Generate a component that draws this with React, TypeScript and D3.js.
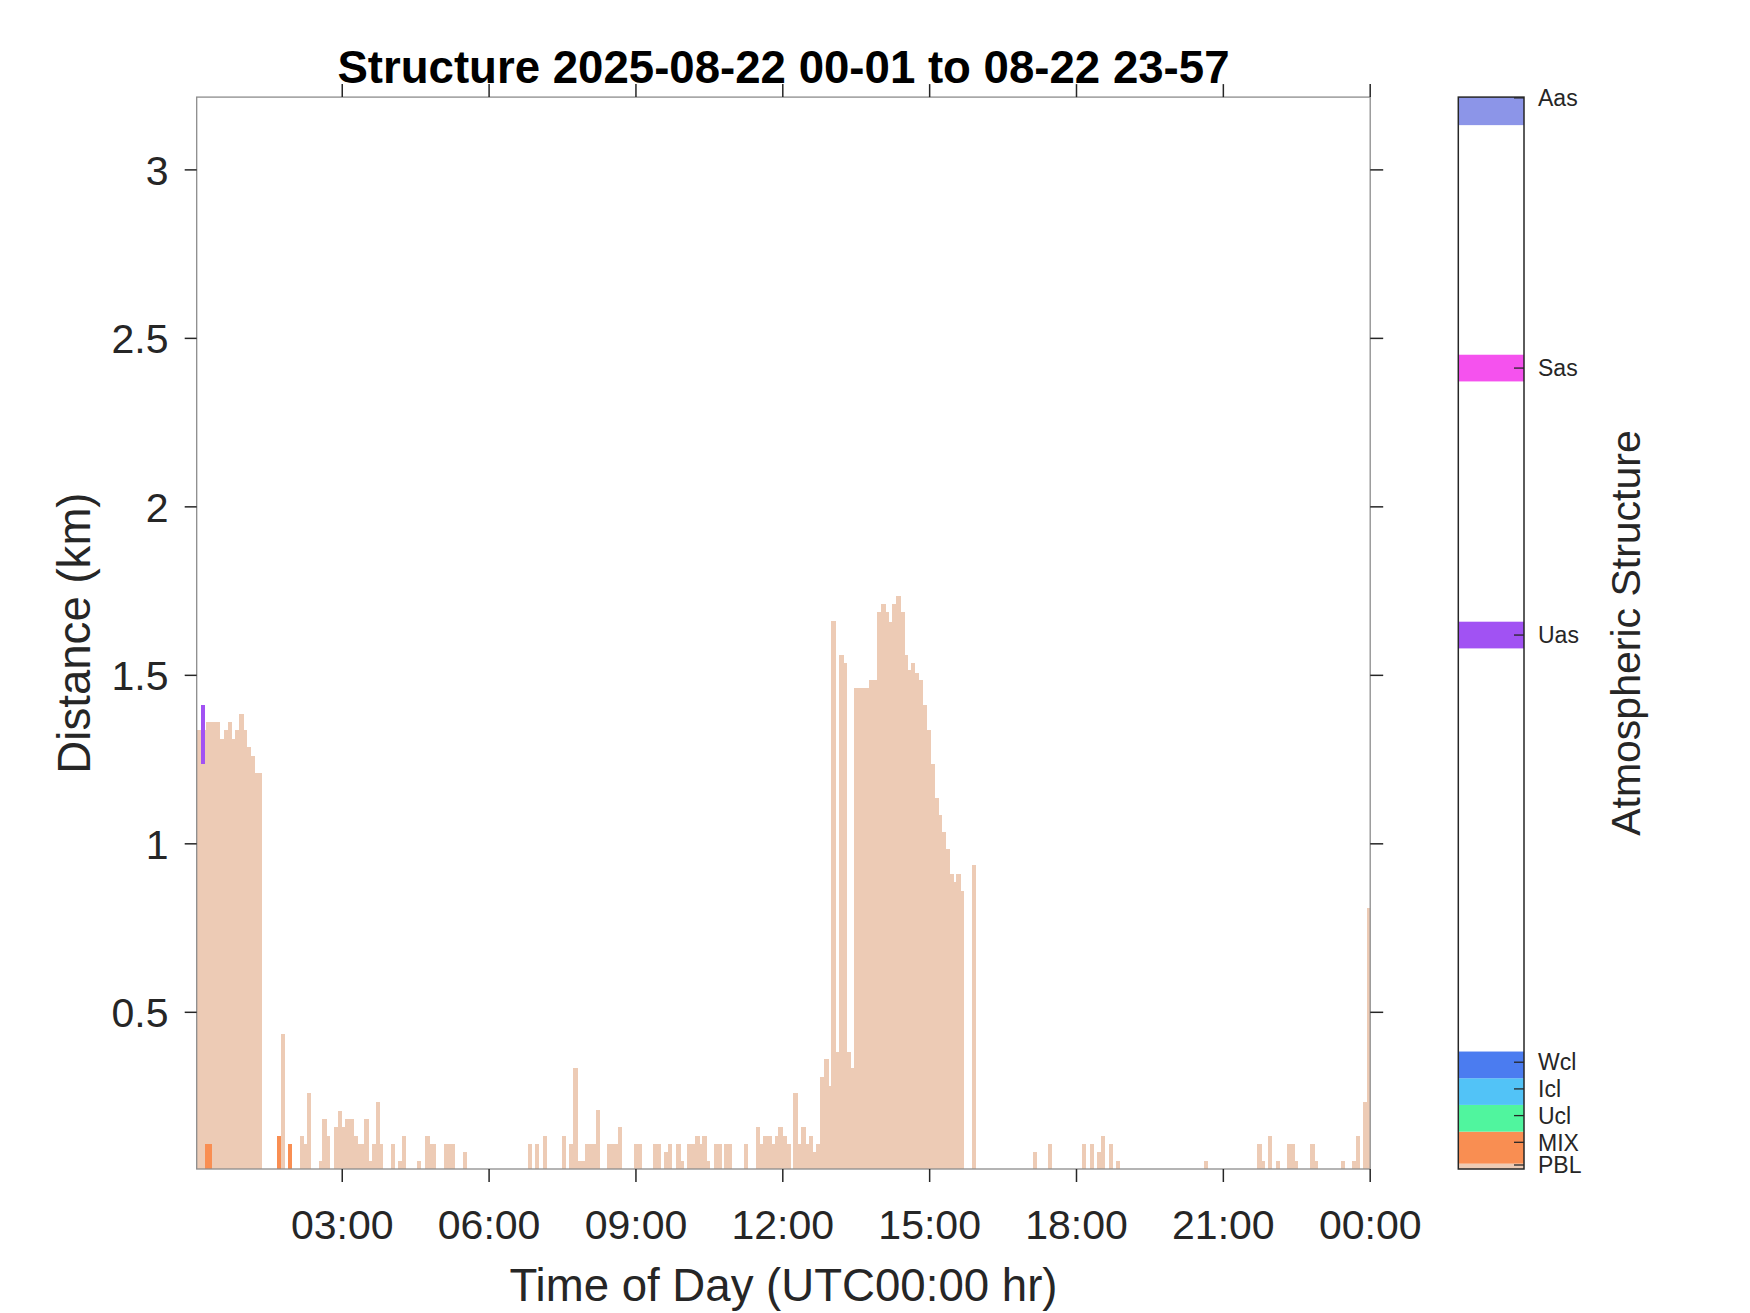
import React from "react";
import * as d3 from "d3";

// ---- data (time in minutes after 00:00 UTC, height in km) ----
const pblBars: [number, number][] = [
  [1.6, 1.338], [5.4, 1.338], [9.2, 1.338], [13, 1.361], [17.1, 1.361], [21.2, 1.361], [25.3, 1.361],
  [29.3, 1.31], [31.8, 1.31], [35.4, 1.338], [39.6, 1.361], [43.6, 1.31], [48.5, 1.338], [53.8, 1.385], [58, 1.338],
  [62, 1.286], [67, 1.261], [71.8, 1.211], [76.5, 1.211],
  [104.9, 0.436], [128.2, 0.134], [132.3, 0.109], [137.2, 0.26], [151.9, 0.06], [155.6, 0.183],
  [160.1, 0.134], [169.9, 0.159], [174.8, 0.208], [178.5, 0.159], [183.4, 0.183], [188.1, 0.183],
  [192.8, 0.134], [197.7, 0.109], [202.2, 0.109], [206.7, 0.183], [211.2, 0.06], [216.8, 0.109],
  [221, 0.233], [225, 0.109], [239.4, 0.109], [248.7, 0.06], [253.2, 0.134], [271.6, 0.06],
  [281.4, 0.134], [285.9, 0.109], [290.2, 0.109], [304.7, 0.109], [309.2, 0.109], [313.7, 0.109],
  [328, 0.085], [407.3, 0.109], [416.2, 0.109], [425.7, 0.134], [448.9, 0.134], [457.9, 0.109],
  [462.5, 0.334], [467.3, 0.06], [472.4, 0.06], [477.5, 0.109], [482, 0.109], [486.5, 0.109],
  [491, 0.21], [504.5, 0.109], [509.1, 0.109], [513.8, 0.109], [518.4, 0.159], [537.2, 0.109],
  [542.1, 0.109], [560.5, 0.109], [565.4, 0.109], [574.4, 0.085], [579.7, 0.109], [589, 0.109],
  [593.9, 0.06], [602.9, 0.109], [607.6, 0.109], [612.3, 0.134], [617.2, 0.109], [621.3, 0.134],
  [625.5, 0.06], [635.6, 0.109], [640.3, 0.109], [647.5, 0.109], [652.7, 0.109], [672.4, 0.109],
  [687.1, 0.159], [690.8, 0.109], [696.1, 0.134], [700.8, 0.134], [705.5, 0.109], [710.4, 0.134],
  [714.5, 0.159], [719.4, 0.134], [724.8, 0.109], [732.9, 0.26], [737, 0.109], [742.3, 0.159],
  [747.2, 0.109], [751.7, 0.134], [755.8, 0.085], [760.7, 0.109], [766, 0.309], [770.1, 0.361],
  [775, 0.282], [779.1, 1.661], [784, 0.383], [788.9, 1.56], [793.4, 1.537], [797.5, 0.383],
  [802.4, 0.334], [807.3, 1.463], [811.9, 1.463], [816.5, 1.463], [821, 1.463], [825.6, 1.486],
  [830.7, 1.486], [835.8, 1.687], [840.3, 1.711], [845.2, 1.687], [849.3, 1.659], [854.2, 1.711],
  [858.4, 1.735], [863.6, 1.687], [868.1, 1.56], [872.2, 1.516], [877.1, 1.537], [881.2, 1.508],
  [886.1, 1.486], [890.2, 1.412], [895.1, 1.338], [900.4, 1.237], [905.3, 1.135], [909.8, 1.086],
  [914.5, 1.034], [919.4, 0.986], [924.3, 0.911], [928.8, 0.888], [932.8, 0.911], [937.7, 0.861],
  [952.3, 0.937], [1027, 0.085], [1045, 0.109], [1086.7, 0.109], [1096.5, 0.109], [1105.5, 0.085],
  [1110, 0.134], [1119.4, 0.109], [1128.4, 0.06], [1236.2, 0.06], [1301.6, 0.109], [1306.1, 0.06],
  [1314.7, 0.134], [1324.5, 0.06], [1338, 0.109], [1342.5, 0.109], [1347, 0.06], [1366.2, 0.109],
  [1371.1, 0.06], [1404.2, 0.06], [1417.6, 0.06], [1422.5, 0.134], [1431.1, 0.235], [1436, 0.81],
];
const mixBars: [number, number][] = [
  [11.8, 0.109], [16, 0.109], [99.6, 0.134], [113.1, 0.109],
];
// [time, base km, top km]
const uasLayers: [number, number, number][] = [[6.9, 1.237, 1.412]];

const xTicks = [180, 360, 540, 720, 900, 1080, 1260, 1440];
const xTickLabels = ["03:00", "06:00", "09:00", "12:00", "15:00", "18:00", "21:00", "00:00"];
const yTicks = [0.5, 1, 1.5, 2, 2.5, 3];
const yTickLabels = ["0.5", "1", "1.5", "2", "2.5", "3"];

const classNames = ["PBL", "MIX", "Ucl", "Icl", "Wcl", "Uas", "Sas", "Aas"];
const classTicks = [0.15, 1, 2, 3, 4, 20, 30, 40.12];
const classBandLo = [0, 0.2, 1.4, 2.4, 3.4, 19.5, 29.5, 39.1];
const classBandHi = [0.2, 1.4, 2.4, 3.4, 4.4, 20.5, 30.5, 40.15];
const classColors = ["#EDCBB5", "#F98E52", "#50F59E", "#52C3F7", "#4B7CF0", "#A152F3", "#F552EE", "#8C95E8"];

const BAR_MAX_WIDTH = 4.9; // minutes
const FONT = "'Liberation Sans', Arial, Helvetica, sans-serif";

export default function App() {
  const W = 1750, H = 1313;
  const L = 196.7, R = 1370.2, T = 97.1, B = 1169;
  const x = d3.scaleLinear().domain([1.6, 1440]).range([L, R]);
  const y = d3.scaleLinear().domain([0.035, 3.216]).range([B, T]);
  const cbL = 1458.3, cbR = 1524;
  const cy = d3.scaleLinear().domain([0, 40.15]).range([B, T]);

  const barRects = (data: [number, number][], color: string, key: string) =>
    data.map(([t, v], i) => {
      const next = i + 1 < data.length ? data[i + 1][0] : Infinity;
      const end = Math.min(next, t + BAR_MAX_WIDTH);
      const contiguous = next - t < 5.6;
      return (
        <rect key={key + i} x={x(t)} y={y(v)} width={x(end) - x(t) + (contiguous ? 0.9 : 0)} height={B - y(v)} fill={color} />
      );
    });

  const tickColor = "#262626";
  const boxColor = "#8c8c8c";

  return (
    <svg width={W} height={H} style={{ position: "absolute", left: 0, top: 0, background: "#fff" }} fontFamily={FONT}>
      <rect x={0} y={0} width={W} height={H} fill="#fff" />
      <defs>
        <clipPath id="plotclip">
          <rect x={L} y={T} width={R - L} height={B - T} />
        </clipPath>
      </defs>
      <g clipPath="url(#plotclip)" shapeRendering="crispEdges">
        {barRects(pblBars, classColors[0], "p")}
        {barRects(mixBars, classColors[1], "m")}
        {uasLayers.map(([t, lo, hi], i) => (
          <rect key={"u" + i} x={x(t)} y={y(hi)} width={x(t + 4.5) - x(t)} height={y(lo) - y(hi)} fill={classColors[5]} />
        ))}
      </g>
      {/* axes box */}
      <rect x={L} y={T} width={R - L} height={B - T} fill="none" stroke={boxColor} strokeWidth={1.3} />
      {/* x ticks */}
      {xTicks.map((t, i) => (
        <g key={"xt" + i}>
          <line x1={x(t)} x2={x(t)} y1={B} y2={B + 13} stroke={tickColor} strokeWidth={1.5} />
          <line x1={x(t)} x2={x(t)} y1={T} y2={T - 13} stroke={tickColor} strokeWidth={1.5} />
          <text x={x(t)} y={1238.5} fontSize={41} textAnchor="middle" fill={tickColor}>{xTickLabels[i]}</text>
        </g>
      ))}
      {/* y ticks */}
      {yTicks.map((v, i) => (
        <g key={"yt" + i}>
          <line x1={L - 12} x2={L} y1={y(v)} y2={y(v)} stroke={tickColor} strokeWidth={1.5} />
          <line x1={R} x2={R + 13} y1={y(v)} y2={y(v)} stroke={tickColor} strokeWidth={1.5} />
          <text x={168.5} y={y(v)} dy="0.36em" fontSize={41} textAnchor="end" fill={tickColor}>{yTickLabels[i]}</text>
        </g>
      ))}
      <text x={(L + R) / 2} y={1301} fontSize={45.6} textAnchor="middle" fill={tickColor}>Time of Day (UTC00:00 hr)</text>
      <text transform={`translate(89.5, ${(T + B) / 2}) rotate(-90)`} fontSize={45.6} textAnchor="middle" fill={tickColor}>Distance (km)</text>
      <text x={(L + R) / 2} y={83} fontSize={45.6} fontWeight="bold" textAnchor="middle" fill="#000">Structure 2025-08-22 00-01 to 08-22 23-57</text>

      {/* colorbar */}
      {classNames.map((n, i) => (
        <rect key={"cb" + i} x={cbL} y={cy(classBandHi[i])} width={cbR - cbL} height={cy(classBandLo[i]) - cy(classBandHi[i])} fill={classColors[i]} />
      ))}
      <rect x={cbL} y={T} width={cbR - cbL} height={B - T} fill="none" stroke={tickColor} strokeWidth={1.5} />
      {classNames.map((n, i) => (
        <g key={"cbt" + i}>
          <line x1={cbR - 10} x2={cbR} y1={cy(classTicks[i])} y2={cy(classTicks[i])} stroke={tickColor} strokeWidth={1.3} />
          <text x={1538} y={cy(classTicks[i])} dy="0.36em" fontSize={23} fill={tickColor}>{n}</text>
        </g>
      ))}
      <text transform={`translate(1640, ${(T + B) / 2}) rotate(-90)`} fontSize={41} textAnchor="middle" fill={tickColor}>Atmospheric Structure</text>
    </svg>
  );
}
